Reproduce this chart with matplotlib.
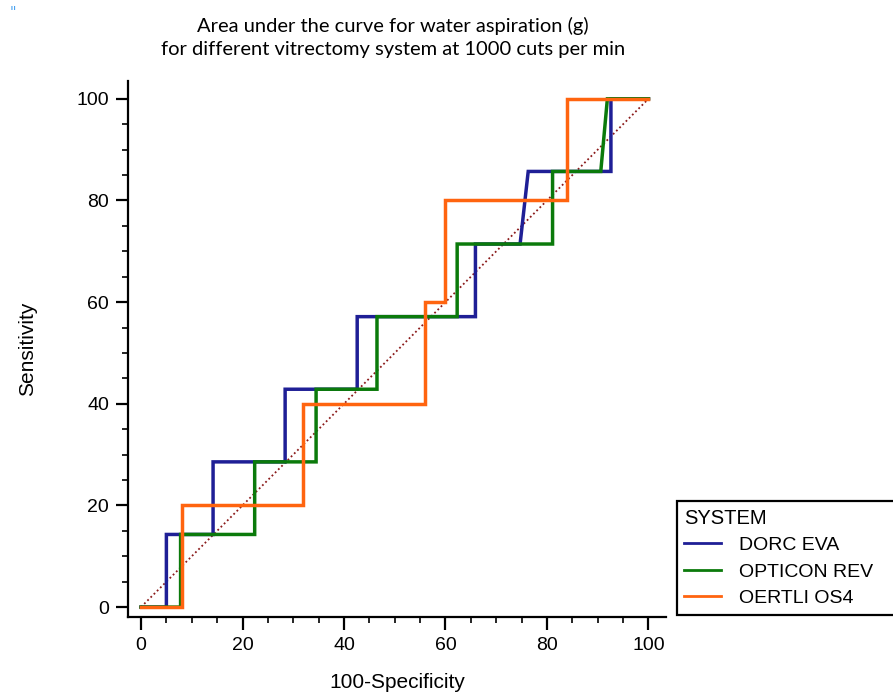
import matplotlib
matplotlib.use("Agg")
import matplotlib.pyplot as plt
from matplotlib.ticker import MultipleLocator

# ROC vertices (100-Specificity, Sensitivity)
dorc_fpr = [0, 5.0, 5.0, 14.2, 14.2, 28.4, 28.4, 42.6, 42.6, 65.9, 65.9, 74.7, 76.3, 92.6, 92.6, 100]
dorc_tpr = [0, 0, 14.29, 14.29, 28.57, 28.57, 42.86, 42.86, 57.14, 57.14, 71.43, 71.43, 85.71, 85.71, 100, 100]

opticon_fpr = [0, 7.8, 7.8, 22.4, 22.4, 34.5, 34.5, 46.5, 46.5, 62.3, 62.3, 81.1, 81.1, 90.6, 91.9, 100]
opticon_tpr = [0, 0, 14.29, 14.29, 28.57, 28.57, 42.86, 42.86, 57.14, 57.14, 71.43, 71.43, 85.71, 85.71, 100, 100]

oertli_fpr = [0, 8, 8, 32, 32, 56, 56, 60, 60, 84, 84, 100]
oertli_tpr = [0, 0, 20, 20, 40, 40, 60, 60, 80, 80, 100, 100]

systems = ["DORC EVA", "OPTICON REV", "OERTLI OS4"]
colors = ["#1f1f96", "#0b7a0b", "#ff640f"]

FONT = "Liberation Sans"

fig = plt.figure(figsize=(8.93, 6.93), dpi=100)
ax = fig.add_axes([0.1437, 0.1093, 0.6018, 0.7738])

ax.plot([0, 100], [0, 100], color="#8b1a1a", linestyle=(0, (1, 1.5)),
        linewidth=1.3, zorder=1)
for fpr, tpr, name, c in zip([dorc_fpr, opticon_fpr, oertli_fpr],
                             [dorc_tpr, opticon_tpr, oertli_tpr],
                             systems, colors):
    ax.plot(fpr, tpr, color=c, linewidth=2.5, label=name,
            solid_joinstyle="miter", zorder=2)

ax.set_xlim(-2.5, 103.4)
ax.set_ylim(-2.0, 103.5)
for side in ("top", "right"):
    ax.spines[side].set_visible(False)
for side in ("left", "bottom"):
    ax.spines[side].set_linewidth(1.6)

ax.xaxis.set_major_locator(MultipleLocator(20))
ax.xaxis.set_minor_locator(MultipleLocator(5))
ax.yaxis.set_major_locator(MultipleLocator(20))
ax.yaxis.set_minor_locator(MultipleLocator(5))
ax.tick_params(which="major", direction="out", length=9, width=1.6,
               labelsize=14, pad=5)
ax.tick_params(which="minor", direction="out", length=4.5, width=1.2)
for lab in ax.get_xticklabels() + ax.get_yticklabels():
    lab.set_family(FONT)

ax.set_xlabel("100-Specificity", family=FONT, fontsize=15, labelpad=14)
ax.set_ylabel("Sensitivity", family=FONT, fontsize=15, labelpad=28)

fig.text(0.44, 0.963, "Area under the curve for water aspiration (g)",
         ha="center", va="center", family="Lato", fontsize=14.5)
fig.text(0.44, 0.929, "for different vitrectomy system at 1000 cuts per min",
         ha="center", va="center", family="Lato", fontsize=14.5)
fig.text(0.011, 0.982, "\"", color="#4aa3f0", fontsize=10, ha="left", va="center")

leg = ax.legend(loc="upper left", bbox_to_anchor=(0.7578, 0.112, 0.36, 0.165),
                bbox_transform=fig.transFigure, mode="expand", borderaxespad=0,
                title="SYSTEM", alignment="left", fancybox=False,
                framealpha=1, edgecolor="black", borderpad=0.4,
                handlelength=1.9, handletextpad=0.9, labelspacing=0.45,
                prop={"family": FONT, "size": 14})
leg.get_title().set_family(FONT)
leg.get_title().set_fontsize(14.5)
leg.get_frame().set_linewidth(1.6)
for h in leg.get_lines():
    h.set_linewidth(2)

fig.savefig("out.png", dpi=100, facecolor="white")
